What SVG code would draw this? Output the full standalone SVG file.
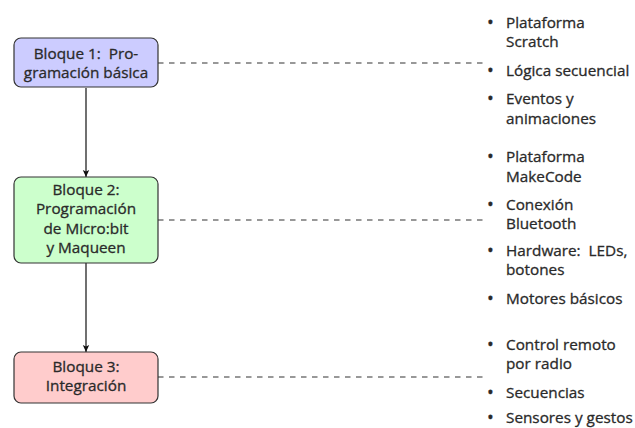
<svg xmlns="http://www.w3.org/2000/svg" width="635" height="428" viewBox="0 0 635 428">
<defs>
<marker id="arr" markerWidth="8" markerHeight="8" refX="7" refY="4" orient="auto" markerUnits="userSpaceOnUse">
<path d="M0,0.8 L7,4 L0,7.2 L1.5,4 Z" fill="#111"/>
</marker>
<style>
text{font-family:"Open Sans","DejaVu Sans",sans-serif;font-size:15.3px;fill:#2a2a2a;stroke:#2a2a2a;stroke-width:0.3;white-space:pre}
.box{stroke:#333;stroke-width:1.2}
.c{text-anchor:middle}
.b{font-size:18px}
.dash{stroke:#333;stroke-width:1.2;stroke-dasharray:5.5 5.5;fill:none}
.arrow{stroke:#111;stroke-width:1.2;fill:none}
</style>
</defs>
<rect width="635" height="428" fill="#fff"/>
<g id="connectors">
<line class="arrow" x1="86" y1="88" x2="86" y2="177" marker-end="url(#arr)"/>
<line class="arrow" x1="86" y1="263" x2="86" y2="352" marker-end="url(#arr)"/>
<line class="dash" x1="158" y1="63" x2="486" y2="63"/>
<line class="dash" x1="158" y1="220" x2="486" y2="220"/>
<line class="dash" x1="158" y1="377" x2="486" y2="377"/>
</g>
<g id="bloque1">
<rect class="box" x="14" y="38" width="144" height="49" rx="7" fill="#ccccff"/>
<text class="c" x="86" y="59" xml:space="preserve">Bloque 1:  Pro-</text>
<text class="c" x="86" y="78">gramación básica</text>
</g>
<g id="bloque2">
<rect class="box" x="14" y="177" width="144" height="86" rx="7" fill="#ccffcc"/>
<text class="c" x="86" y="195">Bloque 2:</text>
<text class="c" x="86" y="214">Programación</text>
<text class="c" x="86" y="234">de Micro:bit</text>
<text class="c" x="86" y="253">y Maqueen</text>
</g>
<g id="bloque3">
<rect class="box" x="14" y="352" width="144" height="51" rx="7" fill="#ffcccc"/>
<text class="c" x="86" y="372">Bloque 3:</text>
<text class="c" x="86" y="391">Integración</text>
</g>
<g id="lista1">
<text class="b" x="487" y="29">•</text><text x="506" y="28">Plataforma</text>
<text x="506" y="47">Scratch</text>
<text class="b" x="487" y="77">•</text><text x="506" y="76">Lógica secuencial</text>
<text class="b" x="487" y="105">•</text><text x="506" y="104">Eventos y</text>
<text x="506" y="124">animaciones</text>
</g>
<g id="lista2">
<text class="b" x="487" y="163">•</text><text x="506" y="162">Plataforma</text>
<text x="506" y="182">MakeCode</text>
<text class="b" x="487" y="211">•</text><text x="506" y="210">Conexión</text>
<text x="506" y="229">Bluetooth</text>
<text class="b" x="487" y="257">•</text><text x="506" y="256" xml:space="preserve">Hardware:  LEDs,</text>
<text x="506" y="275">botones</text>
<text class="b" x="487" y="305">•</text><text x="506" y="304">Motores básicos</text>
</g>
<g id="lista3">
<text class="b" x="487" y="351">•</text><text x="506" y="350">Control remoto</text>
<text x="506" y="369">por radio</text>
<text class="b" x="487" y="399">•</text><text x="506" y="398">Secuencias</text>
<text class="b" x="487" y="424">•</text><text x="506" y="423">Sensores y gestos</text>
</g>
</svg>
